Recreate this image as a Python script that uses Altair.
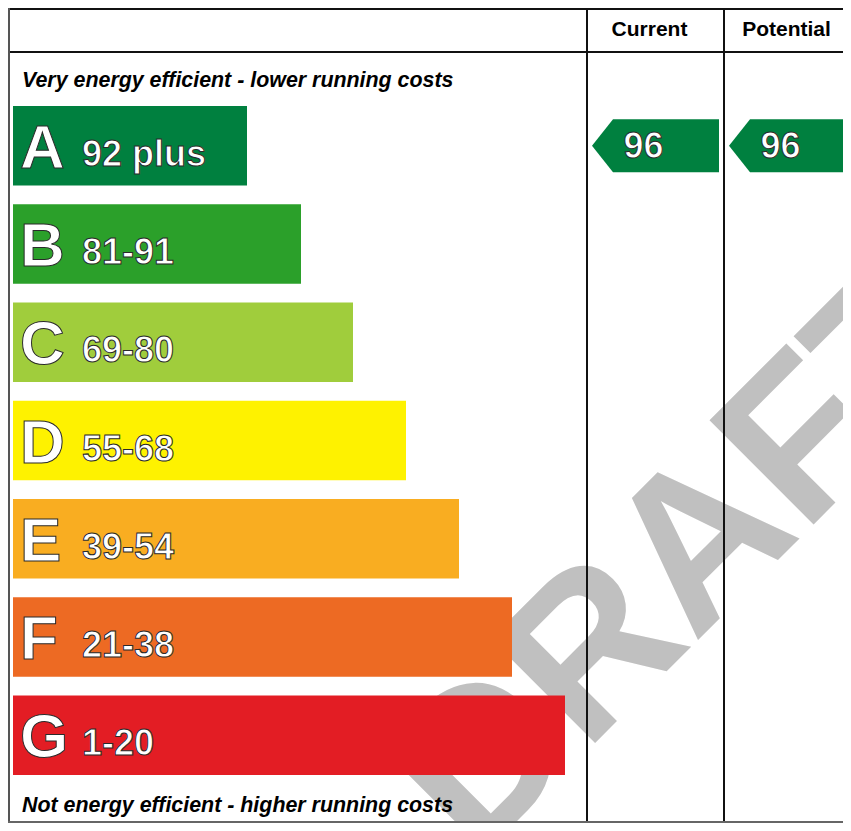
import altair as alt
import pandas as pd

# ---------------- data ----------------
bands = ["A", "B", "C", "D", "E", "F", "G"]
band_ranges = ["92 plus", "81-91", "69-80", "55-68", "39-54", "21-38", "1-20"]
band_lower = [92, 81, 69, 55, 39, 21, 1]
band_colors = ["#00803f", "#2ba02a", "#a0cd3c", "#fef200", "#f9ad21", "#ed6a23", "#e31d24"]
bar_lengths = [234, 288, 340, 393, 446, 499, 552]
columns = ["Current", "Potential"]
ratings = [96, 96]
top_caption = ["Very energy efficient - lower running costs"]
bottom_caption = ["Not energy efficient - higher running costs"]
watermark = ["DRAFT"]

W, H = 835, 815
FONT = "Liberation Sans"


def band_of(score):
    for b, lo in zip(bands, band_lower):
        if score >= lo:
            return b
    return bands[-1]


bands_df = pd.DataFrame({"band": bands, "label": band_ranges, "length": bar_lengths})
rating_df = pd.DataFrame({"column": columns, "rating": ratings,
                          "band": [band_of(r) for r in ratings]})
rating_df["rating_label"] = rating_df["rating"].astype(str)

band_scale = alt.Scale(type="band", domain=bands, range=[98, 767],
                       paddingInner=0.19, paddingOuter=0)
y_band = alt.Y("band:N", axis=None, scale=band_scale)
x_len = alt.X("length:Q", axis=None, scale=alt.Scale(domain=[0, 800], range=[5, 805]))
col_scale = alt.Scale(type="band", domain=columns, range=[579, 853],
                      paddingInner=0, paddingOuter=0)
x_col = alt.X("column:N", axis=None, scale=col_scale)
color_band = alt.Color("band:N", legend=None, scale=alt.Scale(domain=bands, range=band_colors))

one = pd.DataFrame({"k": [0]})

# watermark (bottom layer)
wm = alt.Chart(pd.DataFrame({"t": watermark})).mark_text(
    angle=315, fontSize=214, fontWeight="bold", font=FONT, color="#c0c0c0",
    align="center", baseline="alphabetic"
).encode(text="t:N", x=alt.value(724), y=alt.value(598))

# bars
bars = alt.Chart(bands_df).mark_bar(cornerRadius=0).encode(
    y=y_band, x=x_len, color=color_band
)

letters = alt.Chart(bands_df).mark_text(
    align="left", baseline="alphabetic", fontSize=62, fontWeight="bold", font=FONT,
    fill="white", stroke="#2a2a2a", strokeWidth=1, dy=22
).encode(y=y_band, x=alt.value(12), text="band:N")

labels = alt.Chart(bands_df).mark_text(
    align="left", baseline="alphabetic", fontSize=36, fontWeight="bold", font=FONT,
    fill="white", stroke="#2a2a2a", strokeWidth=1, dy=20
).encode(y=y_band, x=alt.value(74), text="label:N")

arrow_path = "M -1 0 L -0.669 -0.417 L 1 -0.417 L 1 0.417 L -0.669 0.417 Z"
arrows = alt.Chart(rating_df).mark_point(
    shape=arrow_path, filled=True, size=16129, opacity=1, strokeWidth=0
).encode(x=x_col, y=y_band, color=color_band)

arrow_text = alt.Chart(rating_df).mark_text(
    align="center", baseline="alphabetic", fontSize=36, fontWeight="bold", font=FONT,
    fill="white", stroke="#2a2a2a", strokeWidth=1, dx=-12, dy=12
).encode(x=x_col, y=y_band, text="rating_label:N")

headers = alt.Chart(pd.DataFrame({"column": columns})).mark_text(
    align="center", baseline="alphabetic", fontSize=21, fontWeight="bold", font=FONT,
    color="black", dx=-6
).encode(x=x_col, y=alt.value(28), text="column:N")

cap_top = alt.Chart(pd.DataFrame({"t": top_caption})).mark_text(
    align="left", baseline="alphabetic", fontSize=21.4, fontWeight="bold", fontStyle="italic",
    font=FONT, color="black"
).encode(text="t:N", x=alt.value(14), y=alt.value(79))

cap_bottom = alt.Chart(pd.DataFrame({"t": bottom_caption})).mark_text(
    align="left", baseline="alphabetic", fontSize=21.4, fontWeight="bold", fontStyle="italic",
    font=FONT, color="black"
).encode(text="t:N", x=alt.value(14), y=alt.value(804))

# frame lines
col_lines = alt.Chart(pd.DataFrame({"column": columns})).mark_rule(
    color="#111", strokeWidth=2
).encode(x=alt.X("column:N", axis=None, bandPosition=0, scale=col_scale),
         y=alt.value(0), y2=alt.value(H))

top_line = alt.Chart(one).mark_rule(color="#111", strokeWidth=2).encode(
    x=alt.value(0), x2=alt.value(W), y=alt.value(1))
head_line = alt.Chart(one).mark_rule(color="#111", strokeWidth=2).encode(
    x=alt.value(0), x2=alt.value(W), y=alt.value(44))
left_line = alt.Chart(one).mark_rule(color="#555", strokeWidth=2).encode(
    x=alt.value(1), y=alt.value(0), y2=alt.value(H))
bottom_line = alt.Chart(one).mark_rule(color="#666", strokeWidth=2).encode(
    x=alt.value(0), x2=alt.value(W), y=alt.value(H - 1))

chart = alt.layer(
    wm, bars, letters, labels, arrows, arrow_text, headers, cap_top, cap_bottom,
    col_lines, top_line, head_line, left_line, bottom_line
).resolve_scale(
    x="independent", y="independent", color="independent"
).properties(
    width=W, height=H, padding=0, autosize=alt.AutoSizeParams(type="none"),
    background="white"
).configure_view(strokeWidth=0)

chart.save("out.html", embed_options={"renderer": "svg", "actions": False})
